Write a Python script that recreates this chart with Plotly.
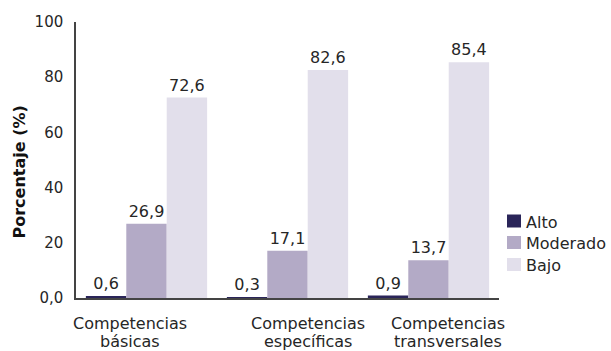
import plotly.graph_objects as go

categories = ["Competencias básicas", "Competencias específicas", "Competencias transversales"]
cat_labels = ["Competencias<br>básicas", "Competencias<br>específicas", "Competencias<br>transversales"]
label_offsets = [-0.12, 0.145, 0.135]
series_names = ["Alto", "Moderado", "Bajo"]
alto = [0.6, 0.3, 0.9]
moderado = [26.9, 17.1, 13.7]
bajo = [72.6, 82.6, 85.4]
colors = ["#2a2559", "#b3aac6", "#e2dfeb"]
y_ticks = [0, 20, 40, 60, 80, 100]
y_ticktext = ["0,0", "20", "40", "60", "80", "100"]

FONT = "DejaVu Sans"
TXT = "#262626"
W, H = 611, 351
ML, MR, MT, MB = 76, 112, 22, 53
PW, PH = W - ML - MR, H - MT - MB

fig = go.Figure()
for name, vals, col in zip(series_names, [alto, moderado, bajo], colors):
    fig.add_trace(go.Bar(
        x=list(range(len(categories))), y=vals, name=name,
        marker=dict(color=col, line=dict(width=0)),
        text=[f"{v:.1f}".replace(".", ",") for v in vals],
        textposition="outside", cliponaxis=False,
        textfont=dict(family=FONT, size=16, color=TXT),
        hovertext=categories, showlegend=False,
    ))

for i, (lab, off) in enumerate(zip(cat_labels, label_offsets)):
    line1, line2 = lab.split("<br>")
    fig.add_annotation(x=i + off, y=0, xref="x", yref="y", text=line1,
                       showarrow=False, yanchor="top", yshift=-14,
                       font=dict(family=FONT, size=16, color=TXT))
    fig.add_annotation(x=i + off, y=0, xref="x", yref="y", text=line2,
                       showarrow=False, yanchor="top", yshift=-32,
                       font=dict(family=FONT, size=16, color=TXT))

# y-axis title
fig.add_annotation(x=(18.5 - ML) / PW, y=(H - MB - 172) / PH, xref="paper", yref="paper",
                   text="<b>Porcentaje (%)</b>", textangle=-90, showarrow=False,
                   xanchor="center", yanchor="middle",
                   font=dict(family=FONT, size=16, color="#111111"))

# legend (manual)
row_centers = [221, 242.5, 264.5]
for name, col, cy in zip(series_names, colors, row_centers):
    fig.add_shape(type="rect", xref="paper", yref="paper",
                  x0=(507 - ML) / PW, x1=(521 - ML) / PW,
                  y0=(H - MB - (cy + 6.5)) / PH, y1=(H - MB - (cy - 6.5)) / PH,
                  fillcolor=col, line=dict(width=0))
    fig.add_annotation(x=(524 - ML) / PW, y=(H - MB - cy - 1) / PH, xref="paper", yref="paper",
                       text=name, showarrow=False, xanchor="left", yanchor="middle",
                       font=dict(family=FONT, size=16, color=TXT))

fig.update_layout(
    width=W, height=H,
    margin=dict(l=ML, r=MR, t=MT, b=MB, autoexpand=False),
    paper_bgcolor="white", plot_bgcolor="white",
    barmode="group", bargap=0.14, bargroupgap=0,
    font=dict(family=FONT, size=16, color=TXT),
    showlegend=False,
)
fig.update_xaxes(range=[-0.5, 2.5], showticklabels=False, showline=True,
                 linecolor="#444444", linewidth=1.5, ticks="", showgrid=False,
                 zeroline=False)
fig.update_yaxes(range=[0, 100], tickvals=y_ticks, ticktext=y_ticktext,
                 showline=True, linecolor="#444444", linewidth=1.5, ticks="",
                 showgrid=False, zeroline=False, ticklabelstandoff=8,
                 tickfont=dict(family=FONT, size=15, color=TXT))

fig.write_html("out.html")
